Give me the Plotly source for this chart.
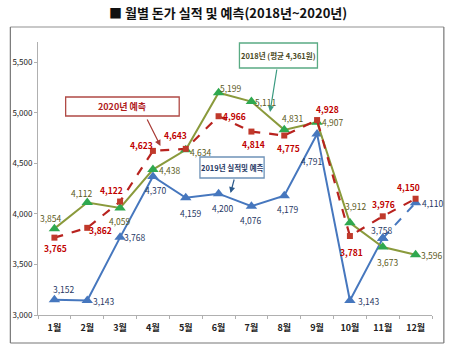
import plotly.graph_objects as go

months = ["1월", "2월", "3월", "4월", "5월", "6월", "7월", "8월", "9월", "10월", "11월", "12월"]
y2018 = [3854, 4112, 4059, 4438, 4634, 5199, 5111, 4831, 4907, 3912, 3673, 3596]
y2019 = [3152, 3143, 3768, 4370, 4159, 4200, 4076, 4179, 4791, 3143, 3758, 4110]
y2020 = [3765, 3862, 4122, 4623, 4643, 4966, 4814, 4775, 4928, 3781, 3976, 4150]
y_ticks = [3000, 3500, 4000, 4500, 5000, 5500]
title_text = "■ 월별 돈가 실적 및 예측(2018년~2020년)"
box2018_text = "2018년 (평균 4,361원)"
box2019_text = "2019년 실적및 예측"
box2020_text = "2020년 예측"

# label offsets in pixels (xshift, yshift)
off2018 = [(-3, 11), (-5, 10), (0, -13), (17, 0), (15, -2), (12, 5), (15, 0), (9, 12), (16, 0), (6, 17), (5, -15), (16, 0)]
off2019 = [(10, 11), (17, 0), (15, 0), (3, -14), (5, -15), (4, -14), (0, -14), (4, -13), (-5, -27), (19, 0), (-1, 8), (17, 0)]
off2020 = [(1, -10), (13, -2), (-9, 12), (-11, 6), (-10, 14), (16, 0), (2, -12), (4, -12), (10, 11), (2, -16), (1, 12), (-7, 12)]

FONT = "Noto Sans CJK KR"
L, R, T, B = 33, 432, 42, 315
W, H = 450, 350


def PX(px):
    return (px - L) / (R - L)


def PY(py):
    return (B - py) / (B - T)


idx = list(range(12))
fig = go.Figure()

# 2019 solid (actual) and dashed (forecast)
fig.add_trace(go.Scatter(x=idx[:11], y=y2019[:11], mode="lines+markers",
                         line=dict(color="#4677be", width=2),
                         marker=dict(symbol="triangle-up", size=10, color="#4677be")))
fig.add_trace(go.Scatter(x=idx[10:], y=y2019[10:], mode="lines+markers",
                         line=dict(color="#4677be", width=2, dash="dash"),
                         marker=dict(symbol="triangle-up", size=10, color="#4677be")))
# 2018
fig.add_trace(go.Scatter(x=idx, y=y2018, mode="lines+markers",
                         line=dict(color="#8a9a3c", width=2),
                         marker=dict(symbol="triangle-up", size=10, color="#2fa84f")))
# 2020
fig.add_trace(go.Scatter(x=idx, y=y2020, mode="lines+markers",
                         line=dict(color="#b8231f", width=2.2, dash="dash"),
                         marker=dict(symbol="square", size=6, color="#c0392b")))

ann = []
for series, offs, col, bold in [(y2018, off2018, "#5b5a22", False),
                                (y2019, off2019, "#1f3864", False),
                                (y2020, off2020, "#c00000", True)]:
    for i, (v, (dx, dy)) in enumerate(zip(series, offs)):
        t = f"{v:,}"
        if bold:
            t = f"<b>{t}</b>"
        ann.append(dict(x=i, y=v, xref="x", yref="y", text=t, showarrow=False,
                        xanchor="center", yanchor="middle",
                        xshift=dx, yshift=dy, font=dict(family=FONT, size=8.5, color=col)))


def ptext(cx, cy, text, size, color):
    return dict(x=PX(cx), y=PY(cy), xref="paper", yref="paper", text=text,
                showarrow=False, xanchor="center", yanchor="middle",
                font=dict(family=FONT, size=size, color=color))


# title
ann.append(ptext(225, 13, f"<b>{title_text}</b>", 13, "#111"))
# boxes text
ann.append(ptext(118.5, 106.5, f"<b>{box2020_text}</b>", 9, "#b0201c"))
ann.append(ptext(276.5, 55.5, f"<b>{box2018_text}</b>", 7.5, "#4a4a1e"))
ann.append(ptext(229.5, 167.5, f"<b>{box2019_text}</b>", 7.5, "#1f3864"))

# arrows
for (x0, y0, x1, y1, c) in [(143, 118, 157, 146, "#a83a35"),
                            (275, 68, 268, 112, "#3a9a80"),
                            (232, 178, 228, 193, "#2c5a8c")]:
    ann.append(dict(x=PX(x1), y=PY(y1), xref="paper", yref="paper", text="",
                    showarrow=True, ax=x0 - x1, ay=y0 - y1, arrowhead=2, arrowsize=1,
                    arrowwidth=1.2, arrowcolor=c))

shapes = []
# boxes
for (x0, y0, x1, y1, c) in [(61, 97, 176, 116, "#b04a45"),
                            (237, 43, 316, 68, "#5aab84"),
                            (197, 157, 262, 178, "#6f93b8")]:
    shapes.append(dict(type="rect", xref="paper", yref="paper", x0=PX(x0), x1=PX(x1),
                       y0=PY(y1), y1=PY(y0), line=dict(color=c, width=1.3),
                       fillcolor="white", layer="below"))
# outer frame
shapes.append(dict(type="line", xref="paper", yref="paper", x0=PX(5), x1=PX(444), y0=PY(27), y1=PY(27),
                   line=dict(color="#c8c8c8", width=2)))
shapes.append(dict(type="line", xref="paper", yref="paper", x0=PX(5), x1=PX(5), y0=PY(27), y1=PY(343),
                   line=dict(color="#777", width=1.2)))
shapes.append(dict(type="line", xref="paper", yref="paper", x0=PX(444), x1=PX(444), y0=PY(27), y1=PY(343),
                   line=dict(color="#777", width=1.2)))
shapes.append(dict(type="line", xref="paper", yref="paper", x0=PX(5), x1=PX(444), y0=PY(343), y1=PY(343),
                   line=dict(color="#777", width=1.2)))

fig.update_layout(
    width=W, height=H,
    margin=dict(l=L, r=W - R, t=T, b=H - B),
    paper_bgcolor="white", plot_bgcolor="white",
    showlegend=False,
    annotations=ann, shapes=shapes,
    font=dict(family=FONT),
)
fig.update_xaxes(range=[-0.5, 11.5], tickmode="array", tickvals=idx,
                 ticktext=[f"<b>{m}</b>" for m in months],
                 showline=True, linecolor="#b0b0b0", linewidth=1,
                 showgrid=False, zeroline=False, ticks="", ticklabelstandoff=4,
                 tickfont=dict(family=FONT, size=9, color="#222"))
# boundary ticks as minor
fig.update_xaxes(minor=dict(tickmode="array", tickvals=[i + 0.5 for i in range(-1, 12)],
                            ticks="outside", ticklen=3, tickcolor="#b0b0b0"))
fig.update_yaxes(range=[3000, 5700], tickmode="array", tickvals=y_ticks,
                 ticktext=[f"{v:,}" for v in y_ticks],
                 showline=True, linecolor="#b0b0b0", linewidth=1,
                 showgrid=False, zeroline=False, ticks="outside", ticklen=3, tickcolor="#b0b0b0",
                 tickfont=dict(family=FONT, size=8, color="#222"))

fig.write_html("out.html")
